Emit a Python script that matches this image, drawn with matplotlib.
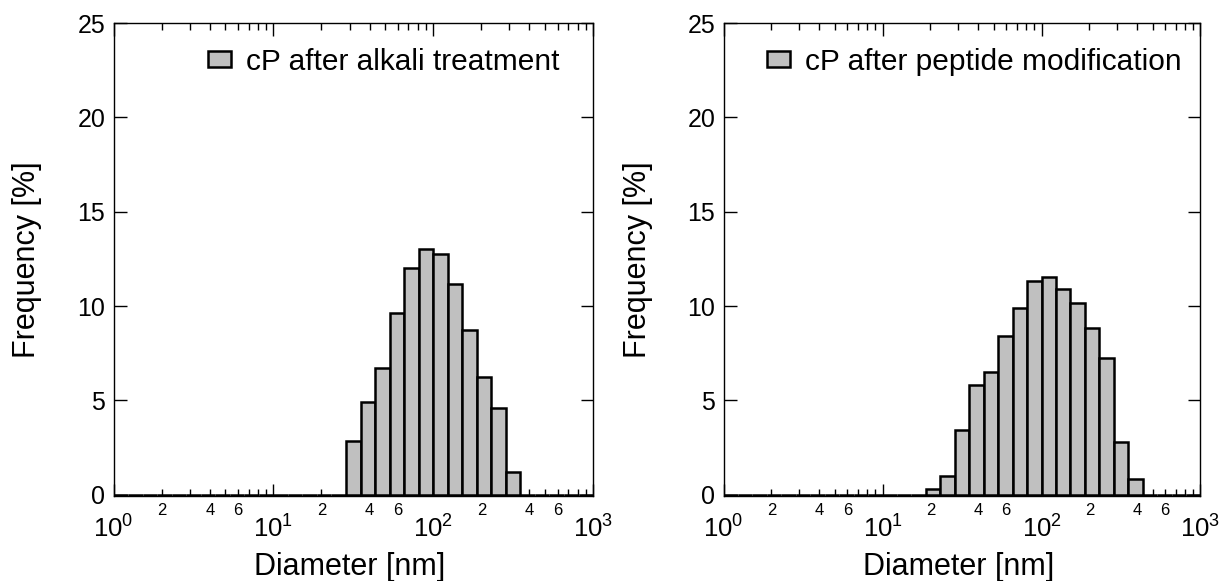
import numpy as np
import matplotlib
matplotlib.use("Agg")
import matplotlib.pyplot as plt
from matplotlib.ticker import LogLocator, FuncFormatter

plt.rcParams['font.family'] = ['Liberation Sans', 'DejaVu Sans']
plt.rcParams['mathtext.fontset'] = 'custom'
plt.rcParams['mathtext.rm'] = 'Liberation Sans'
plt.rcParams['mathtext.it'] = 'Liberation Sans:italic'
plt.rcParams['mathtext.bf'] = 'Liberation Sans:bold'

# 33 logarithmic bins (11 per decade) from 1 nm to 1000 nm
n_bins = 33
freq_alkali = [0]*16 + [2.86, 4.92, 6.74, 9.63, 12.03, 13.03, 12.75, 11.15,
                        8.75, 6.24, 4.62, 1.22] + [0]*5
freq_peptide = [0]*14 + [0.32, 1.0, 3.42, 5.82, 6.52, 8.41, 9.91, 11.32, 11.53,
                         10.93, 10.14, 8.82, 7.23, 2.82, 0.83] + [0]*4
labels = ["cP after alkali treatment", "cP after peptide modification"]
yticks = [0, 5, 10, 15, 20, 25]
xlabel = "Diameter [nm]"
ylabel = "Frequency [%]"

edges = np.logspace(0, 3, n_bins + 1)

fig = plt.figure(figsize=(12.22, 5.81), dpi=100)
axes_pos = [[0.0929, 0.1463, 0.3924, 0.8141],
            [0.5921, 0.1463, 0.3903, 0.8141]]
legend_anchor = [(0.197, 0.918), (0.091, 0.918)]

def minor_fmt(x, pos):
    m = x / 10 ** np.floor(np.log10(x) + 1e-9)
    m = int(round(m))
    return str(m) if m in (2, 4, 6) else ""

def major_fmt(x, pos):
    e = int(round(np.log10(x)))
    return r"$10^{%d}$" % e

for i, data in enumerate([freq_alkali, freq_peptide]):
    ax = fig.add_axes(axes_pos[i])
    ax.bar(edges[:-1], data, width=np.diff(edges), align='edge',
           color='#c0c0c0', edgecolor='black', linewidth=1.8,
           label=labels[i], zorder=2)
    ax.set_xscale('log')
    ax.set_xlim(1, 1000)
    ax.set_ylim(-0.06, 25)
    ax.set_yticks(yticks)
    ax.xaxis.set_major_locator(LogLocator(base=10, numticks=10))
    ax.xaxis.set_minor_locator(LogLocator(base=10, subs=np.arange(2, 10), numticks=20))
    ax.xaxis.set_major_formatter(FuncFormatter(major_fmt))
    ax.xaxis.set_minor_formatter(FuncFormatter(minor_fmt))
    ax.tick_params(which='both', direction='in', top=True, right=True, width=1.0)
    ax.tick_params(which='major', length=9)
    ax.tick_params(which='minor', length=5, labelsize=12, pad=5)
    ax.tick_params(axis='x', which='major', pad=14, labelsize=18.5)
    ax.tick_params(axis='y', which='major', pad=6, labelsize=18)
    for s in ax.spines.values():
        s.set_linewidth(1.0)
    ax.set_xlabel(xlabel, fontsize=22, va='center')
    ax.set_ylabel(ylabel, fontsize=22, va='center')
    ax.xaxis.set_label_coords(0.492, -0.15)
    ax.yaxis.set_label_coords(-0.18, 0.5)
    ax.legend(loc='center left', bbox_to_anchor=legend_anchor[i], frameon=False,
              fontsize=21.5, handlelength=0.77, handleheight=0.43,
              handletextpad=0.5, borderpad=0, borderaxespad=0)

fig.savefig("out.png", dpi=100)
